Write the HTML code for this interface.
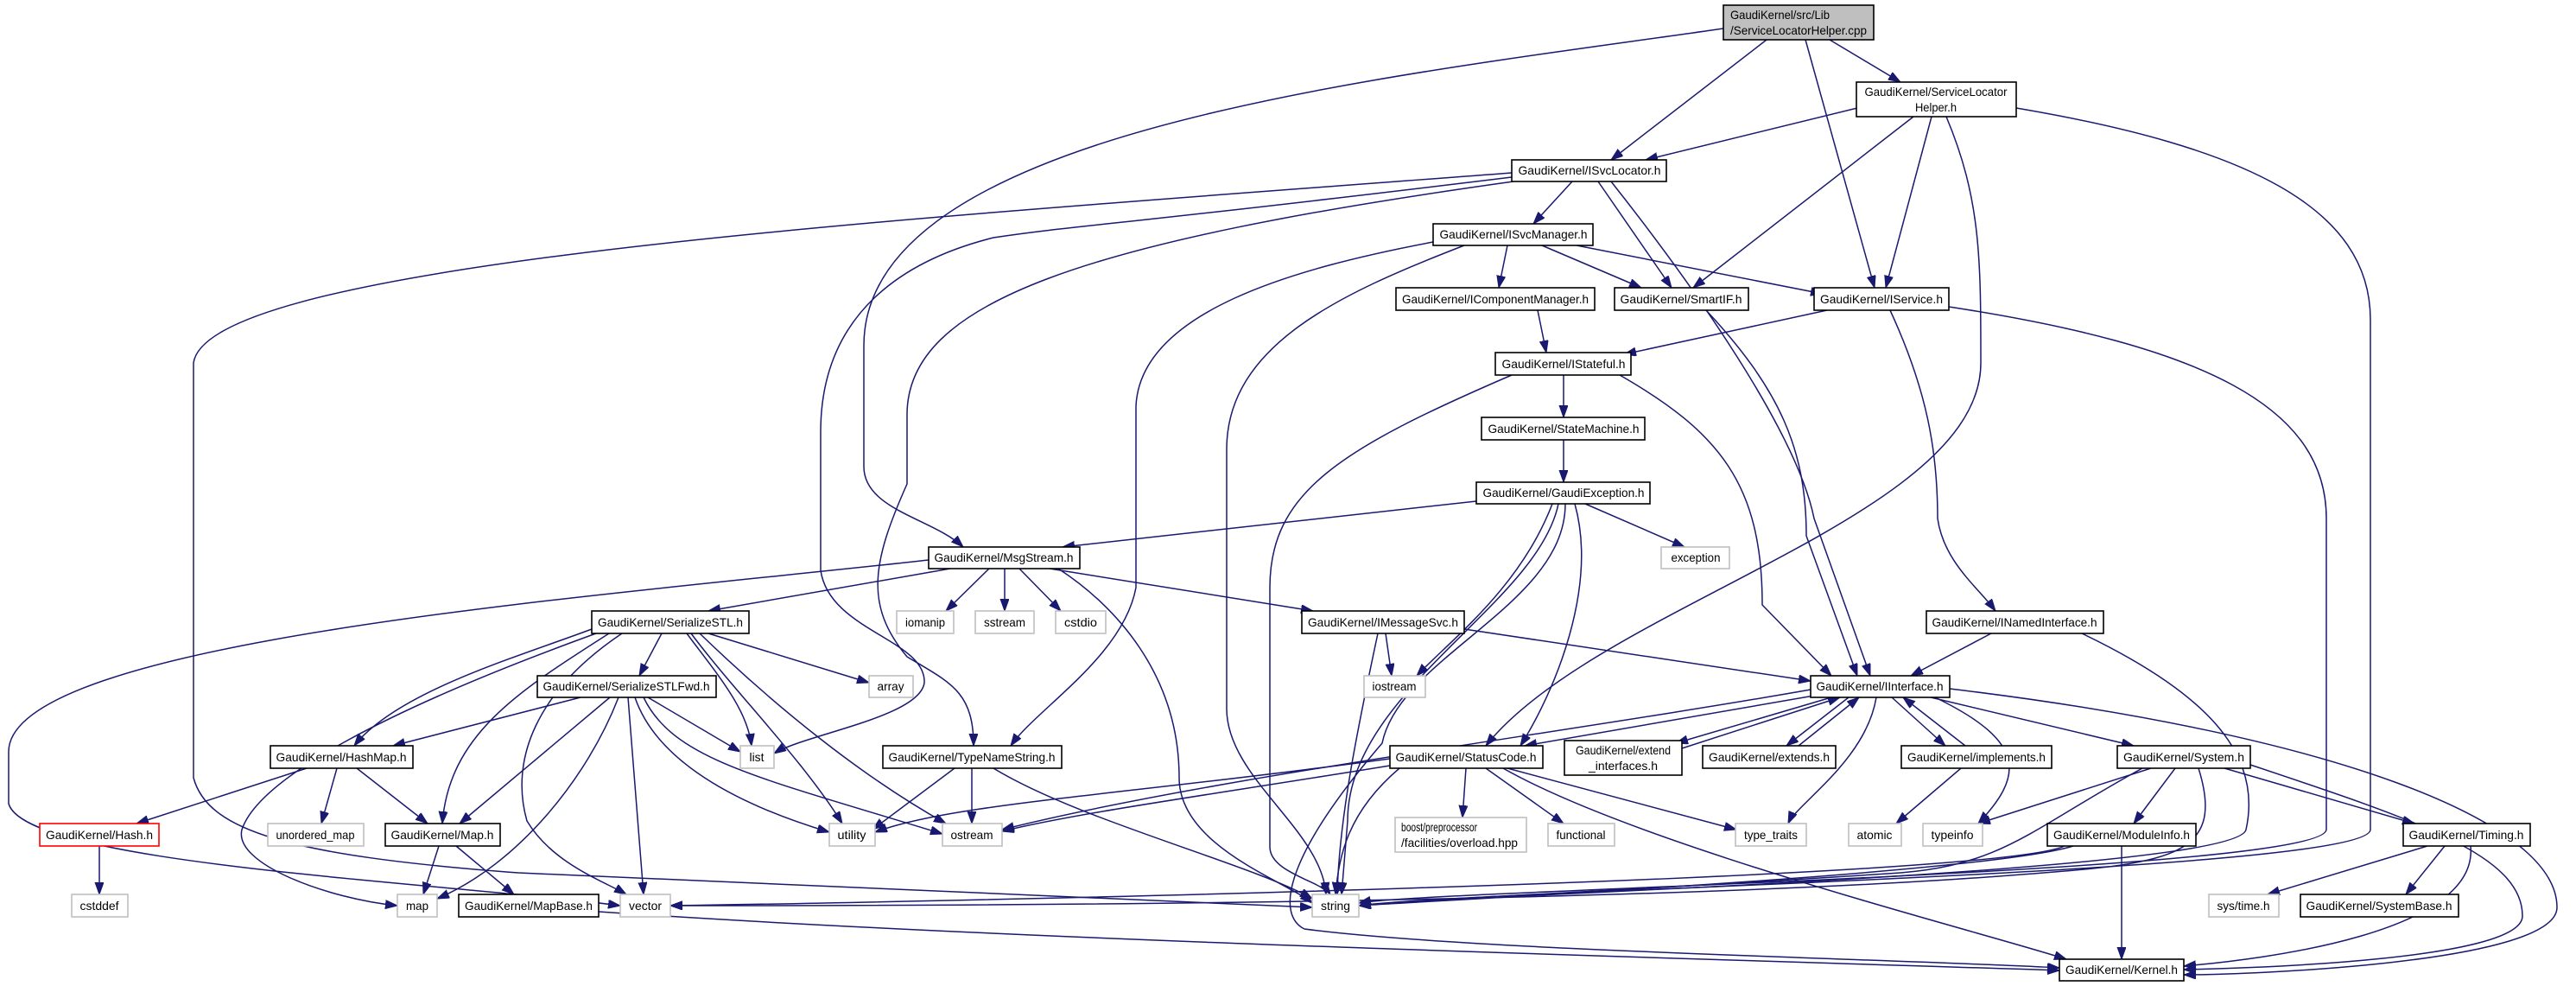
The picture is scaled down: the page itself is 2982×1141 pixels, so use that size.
<!DOCTYPE html>
<html><head><meta charset="utf-8"><style>
html,body{margin:0;padding:0;background:#fff}
svg{display:block}
.n{fill:#fff;stroke:#000;stroke-width:1.6}
.g{fill:#fff;stroke:#bfbfbf;stroke-width:1.6}
.r{fill:#fff;stroke:#ff0000;stroke-width:1.6}
.c{fill:#bfbfbf;stroke:#000;stroke-width:1.6}
text{font-family:"Liberation Sans",sans-serif;font-size:14px;fill:#000;text-anchor:middle}
.l{text-anchor:start}
path.e{fill:none;stroke:#191970;stroke-width:1.5;marker-end:url(#a)}
</style></head><body>
<svg width="2982" height="1141" viewBox="0 0 2982 1141" xmlns="http://www.w3.org/2000/svg">
<defs><marker id="a" markerUnits="userSpaceOnUse" markerWidth="15" markerHeight="11" refX="14" refY="5" orient="auto"><path d="M0,0 L14,5 L0,10 z" fill="#191970" stroke="#191970"/></marker></defs>
<g>
<path class="e" d="M2045,46 L1865,185"/>
<path class="e" d="M2090,46 L2170,333"/>
<path class="e" d="M2118,46 L2200,95"/>
<path class="e" d="M1995,33 C1600,90 1000,150 1000,400 L1000,540 C1000,590 1080,600 1115,633"/>
<path class="e" d="M2150,125 L1905,185"/>
<path class="e" d="M2215,135 L1960,333"/>
<path class="e" d="M2236,135 L2183,333"/>
<path class="e" d="M2253,135 C2293,230 2293,300 2293,420 C2293,600 1850,700 1720,863"/>
<path class="e" d="M2334,125 C2600,170 2744,240 2744,370 L2744,960 C2744,1010 1700,1030 1573,1048"/>
<path class="e" d="M1820,210 L1775,259"/>
<path class="e" d="M1850,210 L1935,333"/>
<path class="e" d="M1865,210 C1960,330 2080,500 2100,600 L2165,782"/>
<path class="e" d="M1750,200 C1100,250 240,300 224,420 L224,900 C240,960 330,990 600,1010 L1519,1050"/>
<path class="e" d="M1750,205 C1300,260 1250,260 1150,275 C1050,300 950,360 950,500 L950,660 C960,730 1072,740 1070,790 C1065,830 930,850 896,872"/>
<path class="e" d="M1752,210 C1250,280 1050,350 1050,480 L1050,560 C1010,650 1000,700 1050,760 C1100,790 1127,800 1127,863"/>
<path class="e" d="M1745,284 L1735,333"/>
<path class="e" d="M1785,284 L1900,333"/>
<path class="e" d="M1825,284 L2110,340"/>
<path class="e" d="M1695,284 C1550,340 1420,400 1420,520 L1420,820 C1420,900 1530,960 1535,1035"/>
<path class="e" d="M1659,280 C1500,310 1320,360 1315,470 L1315,680 C1300,760 1200,820 1170,863"/>
<path class="e" d="M1975,359 C2060,450 2091,520 2091,620 L2150,782"/>
<path class="e" d="M2115,359 L1880,410"/>
<path class="e" d="M2188,359 C2230,450 2243,520 2243,600 C2250,650 2290,680 2310,707"/>
<path class="e" d="M2256,355 C2550,400 2693,470 2693,600 L2693,960 C2690,1010 1650,1030 1573,1045"/>
<path class="e" d="M1780,359 L1790,408"/>
<path class="e" d="M1810,434 L1810,483"/>
<path class="e" d="M1875,434 C1990,500 2040,560 2040,700 L2120,782"/>
<path class="e" d="M1750,434 C1550,520 1470,570 1470,680 L1470,980 C1470,1010 1530,1020 1540,1035"/>
<path class="e" d="M1810,509 L1810,558"/>
<path class="e" d="M1709,580 L1230,633"/>
<path class="e" d="M1835,583 L1950,633"/>
<path class="e" d="M1797,583 C1760,680 1680,740 1640,782"/>
<path class="e" d="M1804,583 C1780,700 1560,800 1560,950 L1553,1035"/>
<path class="e" d="M1823,583 C1850,680 1800,800 1760,863"/>
<path class="e" d="M1812,583 C1812,700 1620,760 1600,860 C1480,1000 1480,1060 1510,1075 C1700,1100 2200,1110 2384,1120"/>
<path class="e" d="M1100,658 L820,707"/>
<path class="e" d="M1145,658 L1095,707"/>
<path class="e" d="M1163,658 L1163,707"/>
<path class="e" d="M1180,658 L1228,707"/>
<path class="e" d="M1215,658 L1520,707"/>
<path class="e" d="M1225,658 C1290,700 1365,780 1365,900 C1365,980 1490,1020 1519,1045"/>
<path class="e" d="M1075,648 C700,690 10,740 10,870 L10,930 C30,1000 500,1020 718,1048"/>
<path class="e" d="M766,733 L740,782"/>
<path class="e" d="M820,733 L1006,790"/>
<path class="e" d="M685,728 C600,760 460,800 410,863"/>
<path class="e" d="M705,733 C600,800 520,850 512,953"/>
<path class="e" d="M690,733 C450,820 300,900 280,960 C270,1000 380,1040 460,1048"/>
<path class="e" d="M720,733 C620,800 590,880 610,950 C640,1000 700,1020 725,1035"/>
<path class="e" d="M795,733 C830,780 865,820 870,863"/>
<path class="e" d="M800,733 C850,800 930,880 975,953"/>
<path class="e" d="M810,733 C900,820 1000,900 1095,953"/>
<path class="e" d="M672,807 L455,863"/>
<path class="e" d="M706,807 L532,953"/>
<path class="e" d="M716,807 C680,900 600,1000 506,1040"/>
<path class="e" d="M727,807 L745,1035"/>
<path class="e" d="M750,807 L857,870"/>
<path class="e" d="M735,807 C760,880 850,930 960,963"/>
<path class="e" d="M745,807 C780,880 880,900 1091,965"/>
<path class="e" d="M355,889 L158,953"/>
<path class="e" d="M390,889 L372,953"/>
<path class="e" d="M413,889 L495,953"/>
<path class="e" d="M115,979 L115,1035"/>
<path class="e" d="M508,979 L490,1035"/>
<path class="e" d="M528,979 L595,1035"/>
<path class="e" d="M693,1055 C1200,1090 2000,1110 2384,1123"/>
<path class="e" d="M1105,889 L1010,960"/>
<path class="e" d="M1125,889 L1125,953"/>
<path class="e" d="M1150,889 C1250,950 1450,1000 1519,1040"/>
<path class="e" d="M1604,733 L1611,782"/>
<path class="e" d="M1595,733 C1570,850 1550,950 1548,1035"/>
<path class="e" d="M1695,728 L2096,788"/>
<path class="e" d="M2305,733 L2212,782"/>
<path class="e" d="M2410,733 C2550,800 2620,870 2600,960 C2590,1010 1700,1035 1573,1048"/>
<path class="e" d="M2100,805 L1765,863"/>
<path class="e" d="M2096,798 C1800,850 1400,900 1160,960"/>
<path class="e" d="M2120,807 L1940,860"/>
<path class="e" d="M1947,866 L2130,807"/>
<path class="e" d="M2140,807 L2068,863"/>
<path class="e" d="M2082,863 L2152,807"/>
<path class="e" d="M2190,807 L2252,863"/>
<path class="e" d="M2275,863 L2203,807"/>
<path class="e" d="M2235,807 L2470,863"/>
<path class="e" d="M2172,807 C2160,880 2080,930 2070,953"/>
<path class="e" d="M2240,807 C2350,860 2340,900 2290,953"/>
<path class="e" d="M2257,797 C2700,850 2960,950 2960,1050 C2960,1115 2600,1128 2528,1128"/>
<path class="e" d="M1697,889 L1693,946"/>
<path class="e" d="M1720,889 L1810,953"/>
<path class="e" d="M1745,889 L2010,960"/>
<path class="e" d="M1740,889 C1900,980 2300,1080 2392,1110"/>
<path class="e" d="M1609,878 C1300,920 1100,930 1013,963"/>
<path class="e" d="M1615,885 C1400,920 1250,940 1160,962"/>
<path class="e" d="M1620,889 C1560,940 1550,990 1546,1035"/>
<path class="e" d="M2270,889 L2195,953"/>
<path class="e" d="M2490,889 L2290,953"/>
<path class="e" d="M2518,889 L2470,953"/>
<path class="e" d="M2575,889 L2795,953"/>
<path class="e" d="M2480,889 C2350,960 2320,1000 2200,1010 C1900,1030 1650,1040 1573,1048"/>
<path class="e" d="M2545,889 C2580,1000 2500,1000 2300,1015 C1800,1050 900,1048 776,1048"/>
<path class="e" d="M2605,885 C2800,950 2920,990 2920,1060 C2920,1110 2620,1120 2528,1122"/>
<path class="e" d="M2400,979 C2300,1010 1700,1040 1573,1048"/>
<path class="e" d="M2390,979 C2300,1020 1000,1045 776,1048"/>
<path class="e" d="M2456,979 L2456,1110"/>
<path class="e" d="M2810,979 L2625,1035"/>
<path class="e" d="M2830,979 L2785,1035"/>
<path class="e" d="M2860,979 C2870,1080 2620,1110 2528,1118"/>
</g>
<g>
<rect class="c" x="1995" y="6" width="174" height="40"/>
<text class="l" x="2003" y="22" textLength="115" lengthAdjust="spacingAndGlyphs">GaudiKernel/src/Lib</text>
<text class="l" x="2003" y="40" textLength="158" lengthAdjust="spacingAndGlyphs">/ServiceLocatorHelper.cpp</text>
<rect class="n" x="2149" y="95" width="185" height="40"/>
<text x="2241" y="111" textLength="165" lengthAdjust="spacingAndGlyphs">GaudiKernel/ServiceLocator</text>
<text x="2241" y="129" textLength="48" lengthAdjust="spacingAndGlyphs">Helper.h</text>
<rect class="n" x="1750" y="185" width="179" height="25"/><text x="1840" y="202" textLength="165" lengthAdjust="spacingAndGlyphs">GaudiKernel/ISvcLocator.h</text>
<rect class="n" x="1659" y="259" width="185" height="25"/><text x="1752" y="276" textLength="171" lengthAdjust="spacingAndGlyphs">GaudiKernel/ISvcManager.h</text>
<rect class="n" x="1616" y="333" width="230" height="26"/><text x="1731" y="351" textLength="216" lengthAdjust="spacingAndGlyphs">GaudiKernel/IComponentManager.h</text>
<rect class="n" x="1869" y="333" width="155" height="26"/><text x="1946" y="351" textLength="141" lengthAdjust="spacingAndGlyphs">GaudiKernel/SmartIF.h</text>
<rect class="n" x="2100" y="333" width="156" height="26"/><text x="2178" y="351" textLength="142" lengthAdjust="spacingAndGlyphs">GaudiKernel/IService.h</text>
<rect class="n" x="1731" y="408" width="157" height="26"/><text x="1810" y="426" textLength="143" lengthAdjust="spacingAndGlyphs">GaudiKernel/IStateful.h</text>
<rect class="n" x="1715" y="483" width="189" height="26"/><text x="1810" y="501" textLength="175" lengthAdjust="spacingAndGlyphs">GaudiKernel/StateMachine.h</text>
<rect class="n" x="1709" y="558" width="201" height="25"/><text x="1810" y="575" textLength="187" lengthAdjust="spacingAndGlyphs">GaudiKernel/GaudiException.h</text>
<rect class="g" x="1923" y="633" width="79" height="25"/><text x="1963" y="650" textLength="57" lengthAdjust="spacingAndGlyphs">exception</text>
<rect class="n" x="1075" y="633" width="175" height="25"/><text x="1162" y="650" textLength="161" lengthAdjust="spacingAndGlyphs">GaudiKernel/MsgStream.h</text>
<rect class="n" x="685" y="707" width="182" height="26"/><text x="776" y="725" textLength="168" lengthAdjust="spacingAndGlyphs">GaudiKernel/SerializeSTL.h</text>
<rect class="g" x="1038" y="707" width="66" height="26"/><text x="1071" y="725" textLength="46" lengthAdjust="spacingAndGlyphs">iomanip</text>
<rect class="g" x="1129" y="707" width="68" height="26"/><text x="1163" y="725" textLength="48" lengthAdjust="spacingAndGlyphs">sstream</text>
<rect class="g" x="1222" y="707" width="58" height="26"/><text x="1251" y="725" textLength="38" lengthAdjust="spacingAndGlyphs">cstdio</text>
<rect class="n" x="1507" y="707" width="188" height="26"/><text x="1601" y="725" textLength="174" lengthAdjust="spacingAndGlyphs">GaudiKernel/IMessageSvc.h</text>
<rect class="n" x="2230" y="707" width="205" height="26"/><text x="2332" y="725" textLength="191" lengthAdjust="spacingAndGlyphs">GaudiKernel/INamedInterface.h</text>
<rect class="n" x="622" y="782" width="207" height="25"/><text x="725" y="799" textLength="193" lengthAdjust="spacingAndGlyphs">GaudiKernel/SerializeSTLFwd.h</text>
<rect class="g" x="1006" y="782" width="51" height="25"/><text x="1031" y="799" textLength="31" lengthAdjust="spacingAndGlyphs">array</text>
<rect class="g" x="1579" y="782" width="71" height="25"/><text x="1614" y="799" textLength="51" lengthAdjust="spacingAndGlyphs">iostream</text>
<rect class="n" x="2096" y="782" width="161" height="25"/><text x="2176" y="799" textLength="147" lengthAdjust="spacingAndGlyphs">GaudiKernel/IInterface.h</text>
<rect class="n" x="313" y="863" width="165" height="26"/><text x="395" y="881" textLength="151" lengthAdjust="spacingAndGlyphs">GaudiKernel/HashMap.h</text>
<rect class="g" x="857" y="863" width="39" height="26"/><text x="876" y="881" textLength="17" lengthAdjust="spacingAndGlyphs">list</text>
<rect class="n" x="1022" y="863" width="207" height="26"/><text x="1125" y="881" textLength="193" lengthAdjust="spacingAndGlyphs">GaudiKernel/TypeNameString.h</text>
<rect class="n" x="1609" y="863" width="177" height="26"/><text x="1697" y="881" textLength="163" lengthAdjust="spacingAndGlyphs">GaudiKernel/StatusCode.h</text>
<rect class="n" x="1811" y="857" width="136" height="40"/>
<text x="1879" y="873" textLength="110" lengthAdjust="spacingAndGlyphs">GaudiKernel/extend</text>
<text x="1879" y="891" textLength="80" lengthAdjust="spacingAndGlyphs">_interfaces.h</text>
<rect class="n" x="1971" y="863" width="154" height="26"/><text x="2048" y="881" textLength="140" lengthAdjust="spacingAndGlyphs">GaudiKernel/extends.h</text>
<rect class="n" x="2201" y="863" width="174" height="26"/><text x="2288" y="881" textLength="160" lengthAdjust="spacingAndGlyphs">GaudiKernel/implements.h</text>
<rect class="n" x="2451" y="863" width="154" height="26"/><text x="2528" y="881" textLength="140" lengthAdjust="spacingAndGlyphs">GaudiKernel/System.h</text>
<rect class="r" x="46" y="953" width="138" height="26"/><text x="115" y="971" textLength="124" lengthAdjust="spacingAndGlyphs">GaudiKernel/Hash.h</text>
<rect class="g" x="310" y="953" width="111" height="26"/><text x="365" y="971" textLength="91" lengthAdjust="spacingAndGlyphs">unordered_map</text>
<rect class="n" x="446" y="953" width="133" height="26"/><text x="512" y="971" textLength="119" lengthAdjust="spacingAndGlyphs">GaudiKernel/Map.h</text>
<rect class="g" x="960" y="953" width="53" height="26"/><text x="986" y="971" textLength="33" lengthAdjust="spacingAndGlyphs">utility</text>
<rect class="g" x="1091" y="953" width="69" height="26"/><text x="1125" y="971" textLength="49" lengthAdjust="spacingAndGlyphs">ostream</text>
<rect class="g" x="1615" y="946" width="152" height="40"/>
<text class="l" x="1622" y="962" textLength="88" lengthAdjust="spacingAndGlyphs">boost/preprocessor</text>
<text class="l" x="1622" y="980" textLength="135" lengthAdjust="spacingAndGlyphs">/facilities/overload.hpp</text>
<rect class="g" x="1792" y="953" width="77" height="26"/><text x="1830" y="971" textLength="57" lengthAdjust="spacingAndGlyphs">functional</text>
<rect class="g" x="2009" y="953" width="82" height="26"/><text x="2050" y="971" textLength="62" lengthAdjust="spacingAndGlyphs">type_traits</text>
<rect class="g" x="2140" y="953" width="61" height="26"/><text x="2170" y="971" textLength="41" lengthAdjust="spacingAndGlyphs">atomic</text>
<rect class="g" x="2226" y="953" width="69" height="26"/><text x="2260" y="971" textLength="49" lengthAdjust="spacingAndGlyphs">typeinfo</text>
<rect class="n" x="2370" y="953" width="172" height="26"/><text x="2456" y="971" textLength="158" lengthAdjust="spacingAndGlyphs">GaudiKernel/ModuleInfo.h</text>
<rect class="n" x="2782" y="953" width="147" height="26"/><text x="2855" y="971" textLength="133" lengthAdjust="spacingAndGlyphs">GaudiKernel/Timing.h</text>
<rect class="g" x="83" y="1035" width="65" height="26"/><text x="115" y="1053" textLength="45" lengthAdjust="spacingAndGlyphs">cstddef</text>
<rect class="g" x="460" y="1035" width="46" height="26"/><text x="483" y="1053" textLength="26" lengthAdjust="spacingAndGlyphs">map</text>
<rect class="n" x="531" y="1035" width="162" height="26"/><text x="612" y="1053" textLength="148" lengthAdjust="spacingAndGlyphs">GaudiKernel/MapBase.h</text>
<rect class="g" x="718" y="1035" width="58" height="26"/><text x="747" y="1053" textLength="38" lengthAdjust="spacingAndGlyphs">vector</text>
<rect class="g" x="1519" y="1035" width="54" height="26"/><text x="1546" y="1053" textLength="34" lengthAdjust="spacingAndGlyphs">string</text>
<rect class="g" x="2557" y="1035" width="81" height="26"/><text x="2597" y="1053" textLength="61" lengthAdjust="spacingAndGlyphs">sys/time.h</text>
<rect class="n" x="2663" y="1035" width="183" height="26"/><text x="2754" y="1053" textLength="169" lengthAdjust="spacingAndGlyphs">GaudiKernel/SystemBase.h</text>
<rect class="n" x="2384" y="1110" width="144" height="25"/><text x="2456" y="1127" textLength="130" lengthAdjust="spacingAndGlyphs">GaudiKernel/Kernel.h</text>
</g>
</svg>
</body></html>
